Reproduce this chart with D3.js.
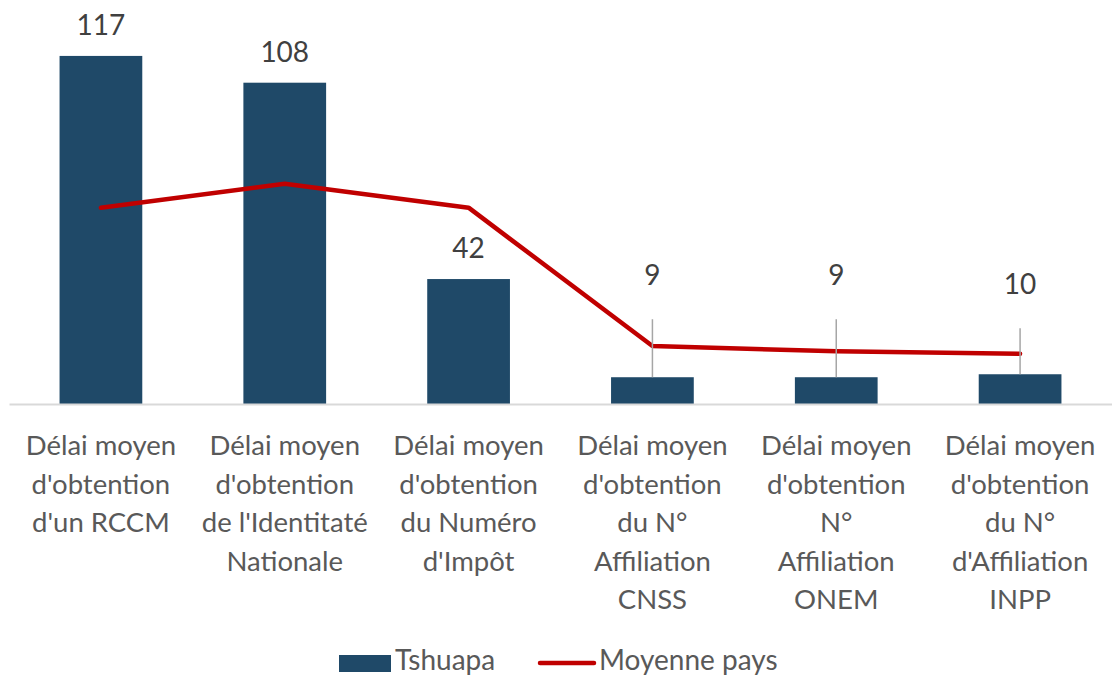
<!DOCTYPE html>
<html>
<head>
<meta charset="utf-8">
<script src="https://cdn.jsdelivr.net/npm/d3@7"></script>
<style>
  body { margin: 0; background: #fff; }
  svg text { font-family: Lato, "Noto Sans", sans-serif; }
</style>
</head>
<body>
<div id="vis"></div>
<script>
// categories (wrapped labels as in the original)
var categories = [
  ["Délai moyen", "d'obtention", "d'un RCCM"],
  ["Délai moyen", "d'obtention", "de l'Identitaté", "Nationale"],
  ["Délai moyen", "d'obtention", "du Numéro", "d'Impôt"],
  ["Délai moyen", "d'obtention", "du N°", "Affiliation", "CNSS"],
  ["Délai moyen", "d'obtention", "N°", "Affiliation", "ONEM"],
  ["Délai moyen", "d'obtention", "du N°", "d'Affiliation", "INPP"]
];
var tshuapa = [117, 108, 42, 9, 9, 10];
var moyennePays = [66, 74, 66, 19.5, 17.7, 16.9];
var seriesNames = ["Tshuapa", "Moyenne pays"];

// labels of small bars are lifted above the line, with a leader line
var labelLift = [0, 0, 0, 71, 71, 59];

var width = 1112, height = 677;
var margin = {left: 9, right: 0, top: 47, bottom: 273};
var barColor = "#1f4968", lineColor = "#c00000";

var svg = d3.select("#vis").append("svg")
  .attr("width", width)
  .attr("height", height);

var xScale = d3.scaleBand()
  .domain(d3.range(categories.length))
  .range([margin.left, width - margin.right])
  .paddingInner(0.55)
  .paddingOuter(0.275);

var yScale = d3.scaleLinear()
  .domain([0, 120])
  .range([height - margin.bottom, margin.top]);

var base = yScale(0);
var cx = function(i) { return xScale(i) + xScale.bandwidth() / 2; };

// bars
svg.append("g").selectAll("rect")
  .data(tshuapa)
  .enter().append("rect")
  .attr("x", function(d, i) { return xScale(i); })
  .attr("y", function(d) { return yScale(d); })
  .attr("width", xScale.bandwidth())
  .attr("height", function(d) { return base - yScale(d); })
  .attr("fill", barColor);

// category axis
var xAxis = d3.axisBottom(xScale).tickSize(0).tickFormat("");
var axisG = svg.append("g")
  .attr("transform", "translate(0," + base + ")")
  .call(xAxis);
axisG.select(".domain").attr("stroke", "#d9d9d9").attr("stroke-width", 2);

var catLabels = svg.append("g").selectAll("text")
  .data(categories)
  .enter().append("text")
  .attr("x", function(d, i) { return cx(i); })
  .attr("y", base + 51)
  .attr("text-anchor", "middle")
  .attr("fill", "#595959")
  .attr("font-size", 27.5);
catLabels.selectAll("tspan")
  .data(function(d) { return d; })
  .enter().append("tspan")
  .attr("x", function() { return this.parentNode.getAttribute("x"); })
  .attr("dy", function(d, i) { return i === 0 ? 0 : 38.6; })
  .text(function(d) { return d; });

// average line
var line = d3.line()
  .x(function(d, i) { return cx(i); })
  .y(function(d) { return yScale(d); });

svg.append("path")
  .datum(moyennePays)
  .attr("d", line)
  .attr("fill", "none")
  .attr("stroke", lineColor)
  .attr("stroke-width", 4.5)
  .attr("stroke-linejoin", "round")
  .attr("stroke-linecap", "round");

// leader lines for lifted labels
tshuapa.forEach(function(d, i) {
  if (labelLift[i] > 0) {
    svg.append("line")
      .attr("x1", cx(i)).attr("x2", cx(i))
      .attr("y1", yScale(d) - labelLift[i] + 13)
      .attr("y2", yScale(d))
      .attr("stroke", "#a6a6a6")
      .attr("stroke-width", 1.5);
  }
});

// data labels
svg.append("g").selectAll("text")
  .data(tshuapa)
  .enter().append("text")
  .attr("x", function(d, i) { return cx(i); })
  .attr("y", function(d, i) { return yScale(d) - 21 - labelLift[i]; })
  .attr("text-anchor", "middle")
  .attr("fill", "#404040")
  .attr("font-size", 28)
  .text(function(d) { return d; });

// legend
var legend = svg.append("g");
legend.append("rect")
  .attr("x", 339).attr("y", 655)
  .attr("width", 52).attr("height", 17)
  .attr("fill", barColor);
legend.append("text")
  .attr("x", 395).attr("y", 670)
  .attr("fill", "#595959").attr("font-size", 28)
  .text(seriesNames[0]);
legend.append("line")
  .attr("x1", 540).attr("x2", 594)
  .attr("y1", 663).attr("y2", 663)
  .attr("stroke", lineColor).attr("stroke-width", 4.5)
  .attr("stroke-linecap", "round");
legend.append("text")
  .attr("x", 599).attr("y", 670)
  .attr("fill", "#595959").attr("font-size", 28)
  .text(seriesNames[1]);
</script>
</body>
</html>
